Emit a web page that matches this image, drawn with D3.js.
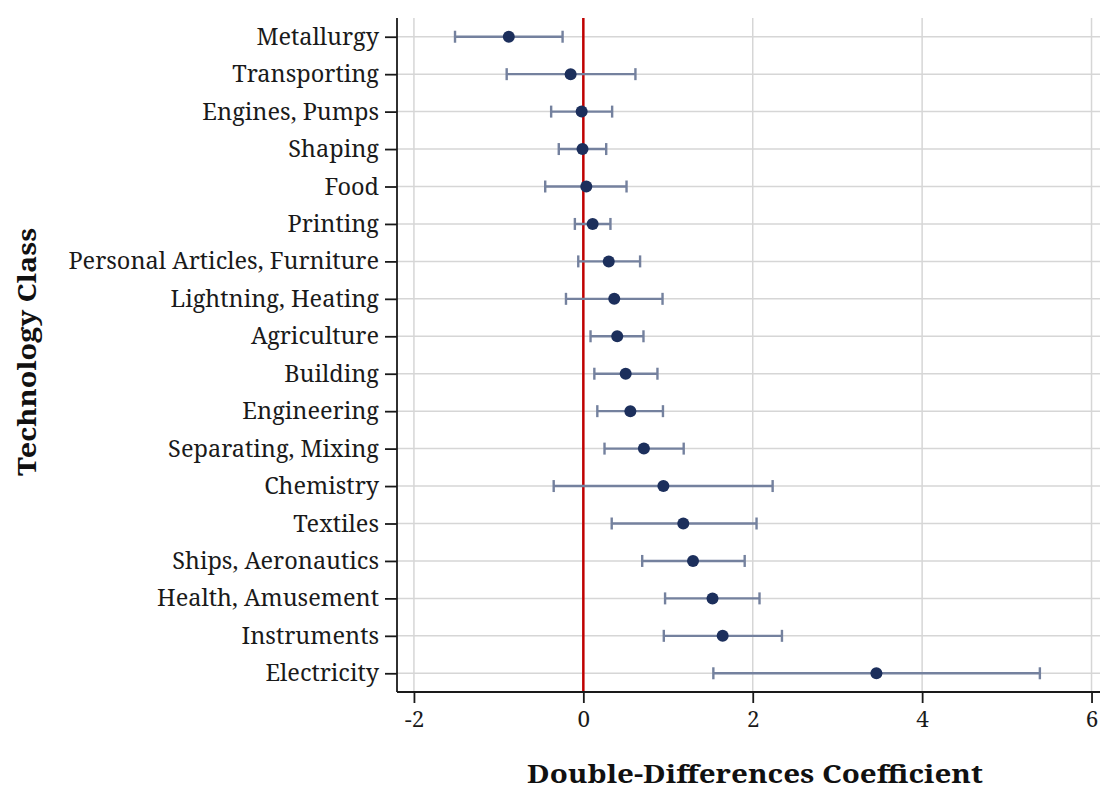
<!DOCTYPE html>
<html>
<head>
<meta charset="utf-8">
<script src="https://cdn.jsdelivr.net/npm/d3@7"></script>
<style>
  html, body { margin: 0; padding: 0; background: #fff; }
  svg { display: block; }
  text { font-family: "Noto Serif", "DejaVu Serif", serif; }
</style>
</head>
<body>
<svg id="chart" width="1100" height="789"></svg>
<script>
const categories = [
  "Metallurgy", "Transporting", "Engines, Pumps", "Shaping", "Food", "Printing",
  "Personal Articles, Furniture", "Lightning, Heating", "Agriculture", "Building",
  "Engineering", "Separating, Mixing", "Chemistry", "Textiles", "Ships, Aeronautics",
  "Health, Amusement", "Instruments", "Electricity"
];
const estimates = [-0.88, -0.15, -0.02, -0.01, 0.035, 0.11, 0.30, 0.365, 0.40, 0.50,
  0.555, 0.715, 0.945, 1.18, 1.295, 1.525, 1.645, 3.46];
const lowerCI = [-1.515, -0.905, -0.38, -0.29, -0.45, -0.10, -0.06, -0.205, 0.085, 0.13,
  0.165, 0.25, -0.35, 0.335, 0.695, 0.965, 0.95, 1.535];
const upperCI = [-0.245, 0.615, 0.34, 0.27, 0.51, 0.32, 0.67, 0.935, 0.71, 0.875,
  0.94, 1.185, 2.235, 2.045, 1.905, 2.08, 2.345, 5.39];
const xTicks = [-2, 0, 2, 4, 6];
const xTitle = "Double-Differences Coefficient";
const yTitle = "Technology Class";

const svg = d3.select("#chart");
const pLeft = 397, pRight = 1100, pTop = 18, pBottom = 692;

const x = d3.scaleLinear().domain([-2.2, 6.1]).range([pLeft, pRight]);
const y = d3.scalePoint().domain(categories).range([pTop, pBottom]).padding(0.5);

// gridlines
svg.append("g").selectAll("line").data(xTicks).join("line")
  .attr("x1", d => x(d)).attr("x2", d => x(d))
  .attr("y1", pTop).attr("y2", pBottom)
  .attr("stroke", "#d6d6d6").attr("stroke-width", 1.5);
svg.append("g").selectAll("line").data(categories).join("line")
  .attr("x1", pLeft).attr("x2", pRight)
  .attr("y1", d => y(d)).attr("y2", d => y(d))
  .attr("stroke", "#d6d6d6").attr("stroke-width", 1.5);

// zero line
svg.append("line")
  .attr("x1", x(0)).attr("x2", x(0)).attr("y1", pTop).attr("y2", pBottom)
  .attr("stroke", "#c00000").attr("stroke-width", 2.5);

// axes
const xAxis = svg.append("g").attr("transform", `translate(0,${pBottom})`)
  .call(d3.axisBottom(x).tickValues(xTicks).tickSize(11).tickPadding(8).tickFormat(d => String(d)));
const yAxis = svg.append("g").attr("transform", `translate(${pLeft},0)`)
  .call(d3.axisLeft(y).tickSize(12).tickPadding(6));
[xAxis, yAxis].forEach(g => {
  g.select(".domain").attr("stroke", "#1a1a1a").attr("stroke-width", 1.8);
  g.selectAll(".tick line").attr("stroke", "#1a1a1a").attr("stroke-width", 1.8);
  g.selectAll(".tick text").attr("fill", "#1a1a1a")
    .style("font-family", '"Noto Serif", "DejaVu Serif", serif');
});
xAxis.selectAll(".tick text").style("font-size", "22.5px");
yAxis.selectAll(".tick text").style("font-size", "23.5px");
xAxis.select(".domain").attr("d", `M${pLeft},0H${pRight}`);
yAxis.select(".domain").attr("d", `M0,${pTop}V${pBottom}`);

// error bars
const data = categories.map((c, i) => ({c, est: estimates[i], lo: lowerCI[i], hi: upperCI[i]}));
const eb = svg.append("g").attr("stroke", "#74819e").attr("stroke-width", 2.4);
eb.selectAll("line.bar").data(data).join("line").attr("class", "bar")
  .attr("x1", d => x(d.lo)).attr("x2", d => x(d.hi))
  .attr("y1", d => y(d.c)).attr("y2", d => y(d.c));
eb.selectAll("line.capl").data(data).join("line").attr("class", "capl")
  .attr("x1", d => x(d.lo)).attr("x2", d => x(d.lo))
  .attr("y1", d => y(d.c) - 6).attr("y2", d => y(d.c) + 6);
eb.selectAll("line.caph").data(data).join("line").attr("class", "caph")
  .attr("x1", d => x(d.hi)).attr("x2", d => x(d.hi))
  .attr("y1", d => y(d.c) - 6).attr("y2", d => y(d.c) + 6);

// points
svg.append("g").selectAll("circle").data(data).join("circle")
  .attr("cx", d => x(d.est)).attr("cy", d => y(d.c)).attr("r", 6)
  .attr("fill", "#1c2f5c");

// titles
svg.append("text").attr("x", 755).attr("y", 783)
  .attr("text-anchor", "middle").style("font-size", "25px").style("font-weight", "bold")
  .attr("textLength", 456).attr("lengthAdjust", "spacingAndGlyphs")
  .attr("fill", "#111").text(xTitle);
svg.append("text").attr("transform", `translate(36,352) rotate(-90)`)
  .attr("text-anchor", "middle").style("font-size", "26px").style("font-weight", "bold")
  .attr("textLength", 248).attr("lengthAdjust", "spacingAndGlyphs")
  .attr("fill", "#111").text(yTitle);
</script>
</body>
</html>
